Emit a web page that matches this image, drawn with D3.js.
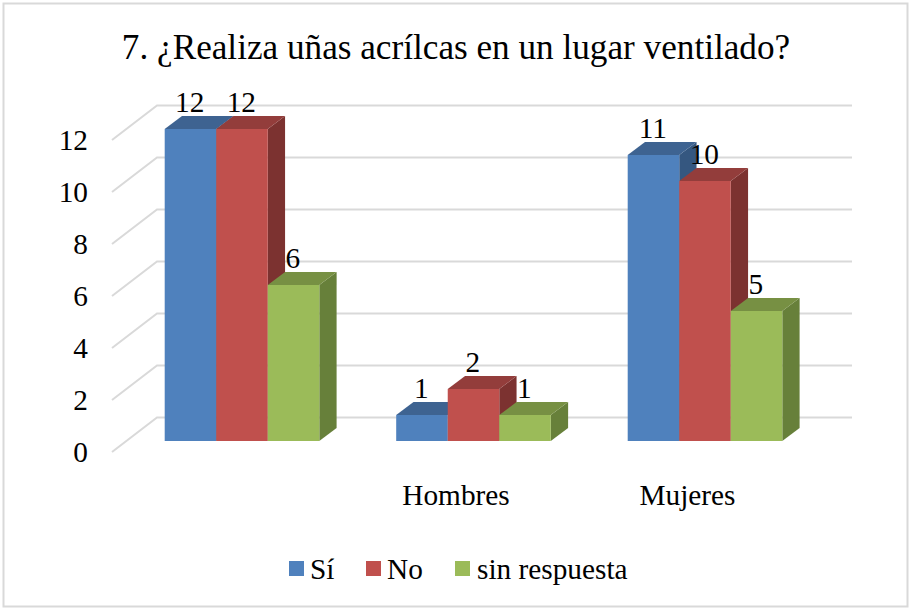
<!DOCTYPE html>
<html>
<head>
<meta charset="utf-8">
<script src="https://cdn.jsdelivr.net/npm/d3@7/dist/d3.min.js"></script>
<style>html,body{margin:0;padding:0;background:#fff}svg{display:block}text{font-family:"Liberation Serif",serif;fill:#000}</style>
</head>
<body>
<svg id="c" width="909" height="608"></svg>
<script>
const titleText = "7. ¿Realiza uñas acrílcas en un lugar ventilado?";
const categories = ["", "Hombres", "Mujeres"];
const seriesNames = ["Sí", "No", "sin respuesta"];
const valuesSi = [12, 1, 11];
const valuesNo = [12, 2, 10];
const valuesSinRespuesta = [6, 1, 5];
const tickValues = [0, 2, 4, 6, 8, 10, 12];
const frontColors = ["#4f81bd", "#c0504d", "#9bbb59"];
const topColors = ["#3e6391", "#933d3b", "#779043"];
const sideColors = ["#355780", "#7c3230", "#67803a"];

const allValues = [valuesSi, valuesNo, valuesSinRespuesta];
const svg = d3.select("#c");
const depthX = 17.3, depthY = 13;

const yFront = d3.scaleLinear().domain([0, 12]).range([441, 129]);
const yWall = d3.scaleLinear().domain([0, 12]).range([417.5, 105.5]);
const xGroup = d3.scalePoint().domain(categories).range([242, 705]);
const xSeries = d3.scaleBand().domain(seriesNames).range([-77.3, 77.3]);

// frame
svg.append("rect").attr("x", 3.5).attr("y", 3.5).attr("width", 904).attr("height", 603)
  .attr("fill", "#fff").attr("stroke", "#d9d9d9").attr("stroke-width", 2);

// title
svg.append("text").attr("x", 456).attr("y", 58.5).attr("text-anchor", "middle")
  .attr("font-size", 35.2).text(titleText);

// gridlines
const grid = svg.append("g").attr("fill", "none").attr("stroke", "#d9d9d9").attr("stroke-width", 2);
tickValues.forEach(v => {
  grid.append("path").attr("d", d3.line()([
    [112, yWall(v) + 34.5], [157, yWall(v)], [852, yWall(v)]
  ]));
});

// tick labels
svg.append("g").selectAll("text").data(tickValues).join("text")
  .attr("x", 88).attr("y", d => yWall(d) + 44.5)
  .attr("text-anchor", "end").attr("font-size", 29.3)
  .text(d => d);

// bars
const shape = d3.line();
const bars = svg.append("g");
categories.forEach((cat, ci) => {
  seriesNames.forEach((name, si) => {
    const v = allValues[si][ci];
    const x0 = xGroup(cat) + xSeries(name);
    const x1 = x0 + xSeries.bandwidth();
    const yT = yFront(v), yB = yFront(0);
    bars.append("path").attr("fill", sideColors[si]).attr("d", shape([
      [x1, yT], [x1 + depthX, yT - depthY], [x1 + depthX, yB - depthY], [x1, yB]]) + "Z");
    bars.append("path").attr("fill", topColors[si]).attr("d", shape([
      [x0, yT], [x0 + depthX, yT - depthY], [x1 + depthX, yT - depthY], [x1, yT]]) + "Z");
    bars.append("rect").attr("fill", frontColors[si]).attr("x", x0).attr("y", yT)
      .attr("width", x1 - x0).attr("height", yB - yT);
  });
});

// data labels
const labels = svg.append("g");
categories.forEach((cat, ci) => {
  seriesNames.forEach((name, si) => {
    const v = allValues[si][ci];
    const xc = xGroup(cat) + xSeries(name) + xSeries.bandwidth() / 2;
    labels.append("text").attr("x", xc - 0.7).attr("y", yFront(v) - 17.5)
      .attr("text-anchor", "middle").attr("font-size", 29.3).text(v);
  });
});

// category labels
svg.append("g").selectAll("text").data(categories).join("text")
  .attr("x", d => xGroup(d) - 17.5).attr("y", 504.5)
  .attr("text-anchor", "middle").attr("font-size", 29.3).text(d => d);

// legend
const legendSwatchX = [289, 366, 455];
const legendTextX = [310, 387, 477];
const legend = svg.append("g");
seriesNames.forEach((name, i) => {
  legend.append("rect").attr("x", legendSwatchX[i]).attr("y", 561).attr("width", 15).attr("height", 15)
    .attr("fill", frontColors[i]);
  legend.append("text").attr("x", legendTextX[i]).attr("y", 579).attr("font-size", 29.3).text(name);
});
</script>
</body>
</html>
